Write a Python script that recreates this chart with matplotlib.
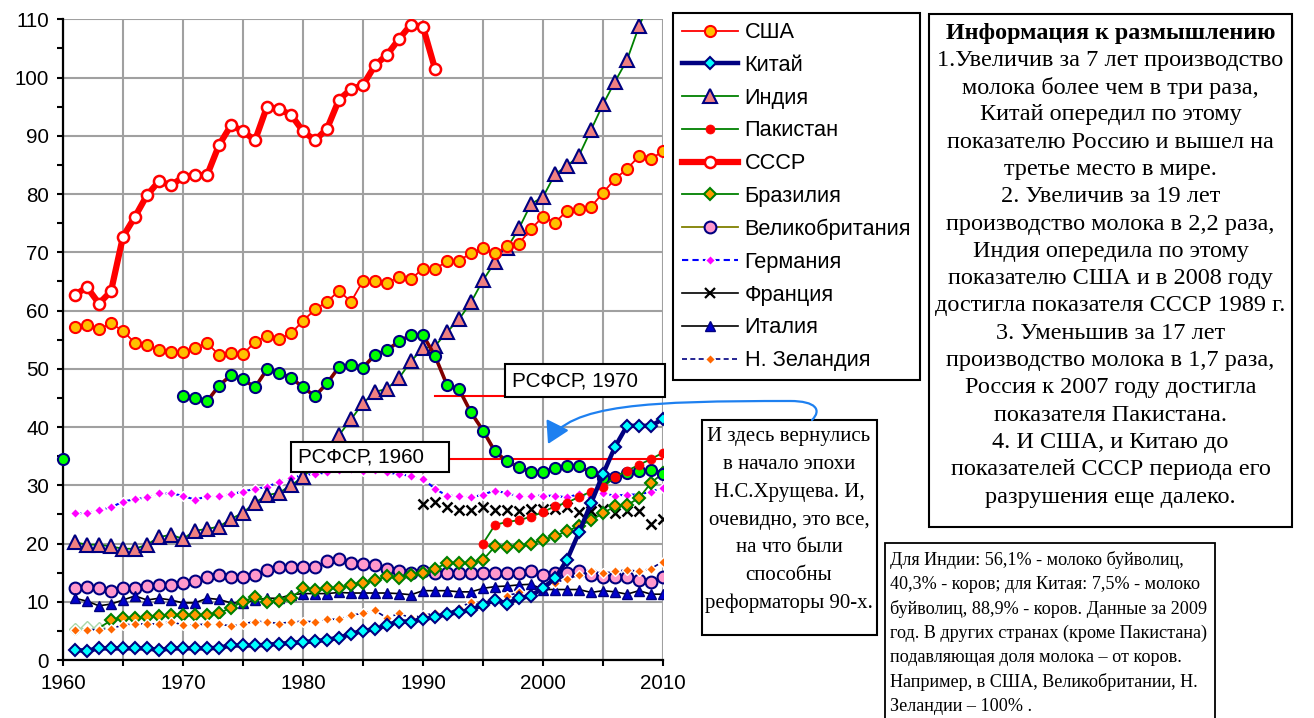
import matplotlib
matplotlib.use('Agg')
import matplotlib.pyplot as plt
import numpy as np
from matplotlib.patches import Rectangle, FancyArrowPatch
from matplotlib.path import Path
from matplotlib.lines import Line2D
from matplotlib.ticker import MultipleLocator

plt.rcParams['font.family'] = ['Liberation Sans', 'DejaVu Sans']

# ---------------- data (million tonnes of milk) ----------------
years = np.arange(1961, 2011)

usa = [57.2, 57.6, 56.8, 57.8, 56.5, 54.4, 54.0, 53.2, 52.8, 52.9,
       53.6, 54.4, 52.4, 52.7, 52.5, 54.6, 55.7, 55.1, 56.1, 58.2,
       60.2, 61.5, 63.4, 61.5, 65.1, 65.1, 64.7, 65.8, 65.4, 67.2,
       67.1, 68.5, 68.5, 69.9, 70.7, 69.9, 71.0, 71.5, 74.0, 76.1,
       75.1, 77.1, 77.4, 77.8, 80.2, 82.6, 84.3, 86.5, 86.0, 87.4]

china = [1.7, 1.6, 2.0, 2.0, 2.0, 2.0, 2.0, 1.7, 2.0, 2.0,
         2.0, 2.0, 2.1, 2.5, 2.5, 2.5, 2.6, 2.8, 2.9, 3.1,
         3.2, 3.5, 3.8, 4.5, 5.0, 5.3, 6.0, 6.6, 6.6, 7.0,
         7.4, 7.9, 8.2, 8.6, 9.5, 10.3, 9.7, 10.6, 11.0, 12.4,
         14.0, 17.2, 21.9, 26.9, 31.9, 36.6, 40.2, 40.2, 40.2, 41.4]

india = [20.2, 19.8, 19.8, 19.5, 19.1, 19.1, 19.8, 21.1, 21.5, 20.8,
         22.2, 22.5, 22.9, 24.2, 25.3, 27.0, 28.3, 28.7, 30.0, 31.4,
         33.5, 35.9, 38.6, 41.3, 44.1, 46.0, 46.6, 48.4, 51.3, 53.5,
         53.9, 56.3, 58.5, 61.4, 65.2, 68.3, 70.7, 74.1, 78.3, 79.5,
         83.4, 84.8, 86.6, 91.0, 95.4, 99.3, 103.0, 108.8, 113.5, 117.5]

pakistan_years = np.arange(1995, 2011)
pakistan = [20.0, 23.2, 23.7, 24.0, 24.6, 25.4, 26.4, 27.0, 28.0, 28.9,
            29.7, 31.4, 32.5, 33.5, 34.5, 35.6]

ussr_years = np.arange(1961, 1992)
ussr = [62.7, 64.0, 61.2, 63.3, 72.7, 76.1, 79.8, 82.2, 81.5, 82.9,
        83.3, 83.2, 88.4, 91.8, 90.8, 89.2, 95.0, 94.6, 93.6, 90.8,
        89.2, 91.2, 96.2, 98.0, 98.7, 102.1, 103.9, 106.6, 109.1, 108.7,
        101.5]

brazil = [5.3, 5.6, 5.5, 6.8, 7.2, 7.2, 7.4, 7.6, 7.7, 7.7,
          7.7, 7.7, 8.0, 9.0, 10.0, 10.9, 10.0, 10.2, 10.6, 12.3,
          12.0, 12.3, 12.3, 12.9, 13.3, 13.7, 14.4, 14.0, 14.6, 14.9,
          15.7, 16.6, 16.6, 16.7, 17.2, 19.5, 19.4, 19.5, 20.0, 20.6,
          21.3, 22.1, 23.0, 24.0, 25.2, 26.4, 26.6, 27.8, 30.4, 32.1]

uk = [12.3, 12.6, 12.3, 11.8, 12.3, 12.3, 12.7, 12.9, 12.9, 13.3,
      13.6, 14.3, 14.6, 14.3, 14.3, 14.6, 15.5, 15.9, 15.9, 15.9,
      15.9, 17.0, 17.4, 16.6, 16.4, 16.3, 15.7, 15.2, 14.9, 15.2,
      15.0, 15.0, 15.0, 15.0, 15.0, 14.9, 15.0, 15.0, 15.2, 14.6,
      14.9, 15.0, 15.3, 14.6, 14.3, 14.3, 14.3, 13.7, 13.4, 14.2]

germany = [25.2, 25.2, 25.8, 26.2, 27.2, 27.6, 27.9, 28.6, 28.6, 28.2,
           27.5, 28.1, 28.2, 28.5, 28.9, 29.4, 29.7, 30.6, 31.2, 31.8,
           31.9, 32.2, 32.6, 32.8, 32.4, 32.6, 32.2, 31.9, 31.6, 31.1,
           29.4, 28.2, 28.2, 27.9, 28.4, 29.1, 28.6, 28.2, 28.2, 28.2,
           28.2, 27.9, 28.5, 28.0, 28.6, 28.2, 28.4, 28.4, 28.9, 29.6]

france_years = np.arange(1990, 2011)
france = [26.7, 27.2, 26.3, 25.8, 25.8, 26.2, 25.8, 25.8, 25.5, 25.9,
          25.9, 25.9, 26.2, 25.4, 25.5, 25.9, 25.2, 25.5, 25.5, 23.3, 24.2]

italy = [10.6, 10.1, 9.3, 9.6, 10.3, 11.0, 10.3, 10.6, 10.3, 9.8,
         9.8, 10.6, 10.4, 9.8, 9.8, 10.3, 10.6, 10.6, 11.2, 11.4,
         11.4, 11.4, 11.6, 11.5, 11.5, 11.5, 11.5, 11.4, 11.2, 11.9,
         11.9, 11.9, 11.7, 11.7, 12.3, 12.6, 12.7, 12.9, 13.0, 12.1,
         12.1, 12.1, 12.1, 11.6, 11.9, 11.7, 11.3, 11.9, 11.3, 11.3]

nz = [5.2, 5.2, 5.2, 5.4, 6.0, 6.2, 6.2, 6.2, 6.6, 6.0,
      6.0, 6.2, 6.2, 5.8, 6.2, 6.6, 6.6, 6.2, 6.6, 6.6,
      6.6, 7.0, 7.0, 7.7, 8.0, 8.5, 7.2, 8.0, 7.2, 7.7,
      8.0, 8.0, 8.9, 10.0, 9.3, 10.3, 11.0, 11.6, 11.0, 12.5,
      13.3, 13.9, 14.6, 15.2, 14.9, 15.2, 15.5, 15.2, 15.7, 16.9]

# RSFSR / Russia: 1960 single point, then 1970-2010
russia_1960 = 34.5
russia_years = np.arange(1970, 2011)
russia = [45.4, 45.0, 44.4, 47.1, 48.9, 48.2, 46.8, 49.9, 49.3, 48.5, 46.8,
          45.3, 47.5, 50.3, 50.6, 50.2, 52.4, 53.2, 54.7, 55.8, 55.8,
          52.2, 47.2, 46.5, 42.5, 39.4, 35.8, 34.1, 33.1, 32.3, 32.3,
          32.9, 33.3, 33.3, 32.2, 31.2, 31.4, 32.1, 32.4, 32.6, 31.9]

labels = ['США', 'Китай', 'Индия', 'Пакистан', 'СССР', 'Бразилия',
          'Великобритания', 'Германия', 'Франция', 'Италия', 'Н. Зеландия']

# ---------------- figure ----------------
W, H = 1314, 718
fig = plt.figure(figsize=(W / 100, H / 100), dpi=100)
renderer = fig.canvas.get_renderer()


def fx(x):
    return x / W


def fy(y):
    return 1 - y / H


def fit(txt, target, **kw):
    t = fig.text(0, 0, txt, fontsize=20, **kw)
    w = t.get_window_extent(renderer).width
    t.remove()
    return 20 * target / w


ax = fig.add_axes([fx(63), fy(660), fx(663) - fx(63), fy(19.3) - fy(660)])
ax.set_xlim(1960, 2010)
ax.set_ylim(0, 110)

ax.xaxis.set_major_locator(MultipleLocator(10))
ax.xaxis.set_minor_locator(MultipleLocator(5))
ax.yaxis.set_major_locator(MultipleLocator(10))
ax.yaxis.set_minor_locator(MultipleLocator(5))
ax.grid(which='major', axis='both', color='#A0A0A0', lw=1.5, zorder=0)
ax.grid(which='minor', axis='x', color='#A0A0A0', lw=1.5, zorder=0)
ax.set_axisbelow(True)
for s in ('top', 'right'):
    ax.spines[s].set_visible(False)
for s in ('left', 'bottom'):
    ax.spines[s].set_linewidth(1.6)
    ax.spines[s].set_color('black')
ax.tick_params(which='both', direction='out', length=4, width=1.5, labelsize=14.8)
ax.tick_params(axis='y', pad=6)
ax.tick_params(axis='x', pad=6)

# ---------------- series ----------------
ln_uk, = ax.plot(years, uk, color='#808000', lw=1.3, marker='o', ms=8.5,
                 mfc='#FF99CC', mec='#000080', mew=1.5, zorder=3)
ln_it, = ax.plot(years, italy, color='black', lw=1.2, marker='^', ms=7,
                 mfc='#0000CC', mec='#000080', mew=1.0, zorder=3.1)
ln_nz, = ax.plot(years, nz, color='#000080', lw=1.2, ls=(0, (3, 2)), marker='D',
                 ms=5, mfc='#FF6600', mec='white', mew=1.0, zorder=3.3)
ln_de, = ax.plot(years, germany, color='#0000FF', lw=1.5, ls=(0, (3, 2)), marker='D',
                 ms=5, mfc='#FF00FF', mec='white', mew=1.0, zorder=3.2)
ln_fr, = ax.plot(france_years, france, color='black', lw=0, ls='none', marker='x',
                 ms=7.5, mec='black', mew=1.8, zorder=3.2)
ax.plot(years[:3], brazil[:3], color='#B8E0B8', lw=1.0, marker='D', ms=6.5,
        mfc='white', mec='#A8D8A8', mew=1.0, zorder=3.0)
ln_br, = ax.plot(years[3:], brazil[3:], color='#008000', lw=1.3, marker='D', ms=6.5,
                 mfc='#FF9900', mec='#008000', mew=1.5, zorder=3.25)
ax.plot(years[2:4], brazil[2:4], color='#008000', lw=1.3, zorder=3.0)
ln_in, = ax.plot(years, india, color='#008000', lw=1.3, marker='^', ms=9.5,
                 mfc='#F08080', mec='#000080', mew=1.5, zorder=3.4)

# red reference lines (RSFSR 1960 / 1970 levels)
ax.plot([1991.0, 1997.0], [russia[0], russia[0]], color='red', lw=1.5, zorder=2.5)
ax.plot([1992.0, 2010.0], [russia_1960, russia_1960], color='red', lw=1.5, zorder=2.5)

ax.plot([1960], [russia_1960], ls='none', marker='o', ms=8,
        mfc='#00FF00', mec='#000080', mew=1.5, zorder=3.5, clip_on=False)
ax.plot(russia_years, russia, color='#800000', lw=2.6, marker='o', ms=8,
        mfc='#00FF00', mec='#000080', mew=1.5, zorder=3.5)
ln_pk, = ax.plot(pakistan_years, pakistan, color='#008000', lw=1.3, marker='o', ms=6.5,
                 mfc='red', mec='red', mew=0.5, zorder=3.6)
ln_cn, = ax.plot(years, china, color='#000080', lw=3.2, marker='D', ms=6.5,
                 mfc='#00FFFF', mec='#000080', mew=1.5, zorder=3.7)
ln_su, = ax.plot(ussr_years, ussr, color='red', lw=4.5, marker='o', ms=8,
                 mfc='white', mec='red', mew=1.8, zorder=3.8)
ln_us, = ax.plot(years, usa, color='red', lw=1.3, marker='o', ms=8,
                 mfc='#FFC000', mec='red', mew=1.5, zorder=3.9)

fr_proxy = Line2D([], [], color='black', lw=1.2, marker='x', ms=7, mec='black', mew=1.6)

# ---------------- legend ----------------
leg_fs = fit('Великобритания', 167, family=['Liberation Sans'])
fs_px = leg_fs * 100 / 72
leg = fig.legend([ln_us, ln_cn, ln_in, ln_pk, ln_su, ln_br, ln_uk, ln_de, fr_proxy, ln_it, ln_nz],
                 labels, loc='upper left', bbox_to_anchor=(fx(673), fy(13)),
                 bbox_transform=fig.transFigure, borderaxespad=0, numpoints=1,
                 fontsize=leg_fs, handlelength=56 / fs_px, handletextpad=0.3,
                 labelspacing=0.54, borderpad=0.42, fancybox=False, framealpha=1,
                 edgecolor='black')
leg.get_frame().set_linewidth(1.5)

# ---------------- text boxes ----------------
def box(x0, y0, x1, y1, lw=1.5):
    fig.add_artist(Rectangle((fx(x0), fy(y1)), fx(x1) - fx(x0), fy(y0) - fy(y1),
                             transform=fig.transFigure, facecolor='white',
                             edgecolor='black', lw=lw, zorder=5))

serif = ['Liberation Serif', 'DejaVu Serif']

# info box
box(929, 14, 1292, 527)
info_lines = ['Информация к размышлению',
              '1.Увеличив за 7 лет производство',
              'молока более чем в три раза,',
              'Китай опередил по этому',
              'показателю Россию и вышел на',
              'третье место в мире.',
              '2. Увеличив за 19 лет',
              'производство молока в 2,2 раза,',
              'Индия опередила по этому',
              'показателю США и в 2008 году',
              'достигла показателя СССР 1989 г.',
              '3. Уменьшив за 17 лет',
              'производство молока в 1,7 раза,',
              'Россия к 2007 году достигла',
              'показателя Пакистана.',
              '4. И США, и Китаю до',
              'показателей СССР периода его',
              'разрушения еще далеко.']
info_fs = fit(info_lines[10], 352, family=serif)
title_fs = fit(info_lines[0], 330, family=serif, weight='bold')
for i, t in enumerate(info_lines):
    fig.text(fx(1110.5), fy(33 + 27.3 * i), t, ha='center', va='center',
             family=serif, fontsize=title_fs if i == 0 else info_fs,
             weight='bold' if i == 0 else 'normal', zorder=6)

# comment box
box(702, 420, 877, 635)
com_lines = ['И здесь вернулись', 'в начало эпохи', 'Н.С.Хрущева. И,',
             'очевидно, это все,', 'на что были', 'способны', 'реформаторы 90-х.']
com_fs = fit(com_lines[6], 168, family=serif)
for i, t in enumerate(com_lines):
    fig.text(fx(789), fy(436.7 + 27.8 * i), t, ha='center', va='center',
             family=serif, fontsize=com_fs, zorder=6)

# note box
box(885, 543, 1215, 722, lw=1.3)
note_lines = ['Для Индии: 56,1% - молоко буйволиц,',
              '40,3% - коров; для Китая: 7,5% - молоко',
              'буйволиц, 88,9% - коров. Данные за 2009',
              'год. В других странах (кроме Пакистана)',
              'подавляющая доля молока – от коров.',
              'Например, в США, Великобритании, Н.',
              'Зеландии – 100% .']
note_fs = fit(note_lines[3], 318, family=serif)
for i, t in enumerate(note_lines):
    fig.text(fx(889.5), fy(560 + 24.4 * i), t, ha='left', va='center',
             family=serif, fontsize=note_fs, zorder=6)

# RSFSR labels
lab_fs = fit('РСФСР, 1970', 126.7)
box(505, 364, 665, 397.3)
fig.text(fx(512), fy(381), 'РСФСР, 1970', ha='left', va='center', fontsize=lab_fs, zorder=6)
box(290.7, 441.7, 449.3, 471.7)
fig.text(fx(298), fy(456.7), 'РСФСР, 1960', ha='left', va='center', fontsize=lab_fs, zorder=6)

# blue curved arrow
verts = [(812, 420), (822, 410), (816, 401), (790, 401),
         (650, 401), (568, 404), (548, 444)]
verts = [(fx(x), fy(y)) for x, y in verts]
codes = [Path.MOVETO, Path.CURVE4, Path.CURVE4, Path.CURVE4,
         Path.CURVE4, Path.CURVE4, Path.CURVE4]
arr = FancyArrowPatch(path=Path(verts, codes), arrowstyle='-|>,head_length=0.6,head_width=0.35',
                      mutation_scale=22, color='#1E80F0', lw=1.6,
                      transform=fig.transFigure, zorder=7)
fig.add_artist(arr)

fig.savefig('out.png', dpi=100)
